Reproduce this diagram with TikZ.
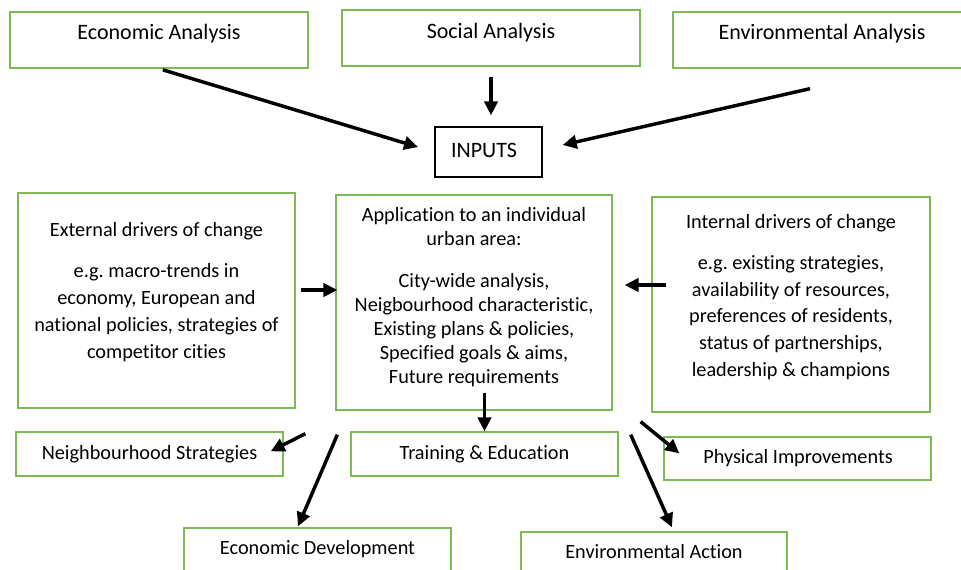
\documentclass[tikz,border=0pt]{standalone}
\usepackage{fontspec}
\setmainfont{Carlito}[Ligatures=NoCommon]
\frenchspacing
\usetikzlibrary{arrows.meta,calc,fit}

\definecolor{boxgreen}{RGB}{125,185,85}

\tikzset{
    box/.style={draw=boxgreen, line width=1pt, inner sep=0pt},
    txt/.style={align=center, inner sep=0pt, font=\fontsize{15.2}{20.25}\selectfont},
    bigtxt/.style={txt, font=\fontsize{16.5}{20.25}\selectfont},
    arr/.style={line width=2.6pt, -{Triangle[length=10.5pt,width=10pt]}},
}

\begin{document}
\begin{tikzpicture}[x=0.75pt,y=-0.75pt]
        \useasboundingbox (0,0) rectangle (961,569);
        %% Analysis boxes
        \node[box, fit={(10,12) (308,68)}] (eco) {};
            \node[bigtxt] (ecotxt) at (159,34) {Economic Analysis};
        \node[box, fit={(342,10) (640,66)}] (social) {};
            \node[bigtxt] (socialtxt) at (491,33) {Social Analysis};
        \node[box, fit={(673,12) (971,68)}] (env) {};
            \node[bigtxt] (envtxt) at (822,34) {Environmental Analysis};
        \node[draw, line width=1pt, inner sep=0pt, fit={(435,127) (542,177)}] (inputs) {};
            \node[bigtxt] (inputstxt) at (484,150) {INPUTS};

        %% Drivers and application
        \node[box, fit={(18,193) (295,408)}] (ext) {};
            \node[txt] (exttxt) at (156.5,292) {External drivers of change\\[11pt]
                e.g. macro-trends in\\ economy, European and\\
                national policies, strategies of\\ competitor cities};
        \node[box, fit={(336,195) (612,410)}] (app) {};
            \node[txt, font=\fontsize{15.2}{17.9}\selectfont] (apptxt) at (474,297)
                {Application to an individual\\ urban area:\\[14pt]
                City-wide analysis,\\ Neigbourhood characteristic,\\
                Existing plans \& policies,\\ Specified goals \& aims,\\
                Future requirements};
        \node[box, fit={(652,197) (930,412)}] (int) {};
            \node[txt, font=\fontsize{15.2}{20.1}\selectfont] (inttxt) at (791,297)
                {Internal drivers of change\\[10.5pt]
                e.g. existing strategies,\\ availability of resources,\\
                preferences of residents,\\ status of partnerships,\\
                leadership \& champions};

        %% Outputs
        \node[box, fit={(16,432) (283,476)}] (nbh) {};
            \node[txt] (nbhtxt) at (149.5,454) {Neighbourhood Strategies};
        \node[box, fit={(351,432) (618,476)}] (training) {};
            \node[txt] (trainingtxt) at (484.5,454) {Training \& Education};
        \node[box, fit={(664,437) (931,480)}] (phys) {};
            \node[txt] (phystxt) at (798,458.5) {Physical Improvements};
        \node[box, fit={(184,528) (451,600)}] (ecodev) {};
            \node[txt] (ecodevtxt) at (317.5,549) {Economic Development};
        \node[box, fit={(521,532) (787,600)}] (envact) {};
            \node[txt] (envacttxt) at (654,552) {Environmental Action};

        %% Arrows
        \draw[arr, shorten <=3pt, shorten >=12.75pt] (eco.south) -- (inputs.west);
        \draw[arr] ($(social.south)+(0,10)$) -- ($(social.south |- inputs.north)+(0,-11)$);
        \draw[arr] ($(env.south)+(-12,20)$) -- ($(inputs.east)+(20,-7)$);
        \draw[arr] ($(ext.east)+(5,-10.5)$) -- ($(app.west)+(2,-12.5)$);
        \draw[arr] ($(int.west)+(15,-19.5)$) -- ($(app.east)+(12,-17.5)$);
        \draw[arr] ($(app.south -| training.north)+(0,-18)$) -- (training.north);
        \draw[arr] ($(app.south west)+(-30,23)$) -- ($(nbh.north east)+(-13,20)$);
        \draw[arr] ($(app.south west)+(2,24)$) -- ($(ecodev.north)+(-19.5,-1)$);
        \draw[arr] ($(app.south east)+(28,11)$) -- ($(phys.north west)+(16,17)$);
        \draw[arr] ($(app.south east)+(18,24)$) -- ($(envact.north)+(18,-4)$);
    \end{tikzpicture}
\end{document}
